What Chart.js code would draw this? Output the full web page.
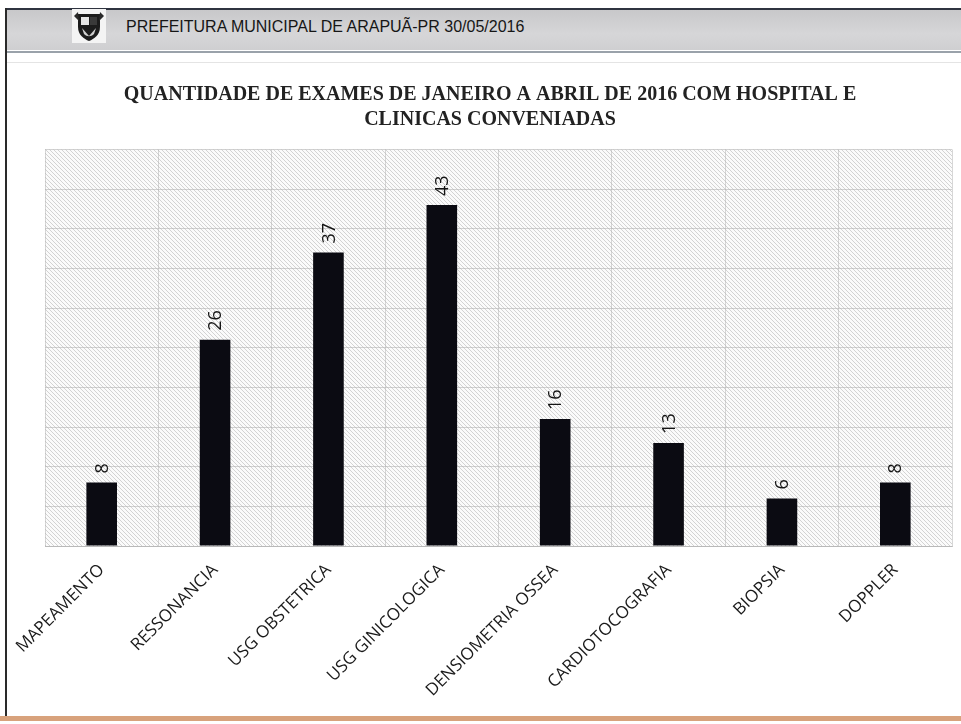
<!DOCTYPE html>
<html>
<head>
<meta charset="utf-8">
<script src="https://cdn.jsdelivr.net/npm/chart.js@4.4.1/dist/chart.umd.min.js"></script>
<style>
  html, body { margin: 0; padding: 0; background: #ffffff; }
  body { width: 961px; height: 724px; position: relative; overflow: hidden; }
  #leftline { position: absolute; left: 5px; top: 8px; width: 2px; height: 712px; background: #2a2a2a; }
  #header { position: absolute; left: 7px; top: 8px; right: 0; height: 40px;
            border-top: 2px solid #2f3440;
            background: linear-gradient(#c8c8ca, #d6d6d8 60%, #cfcfd1); }
  #hline { position: absolute; left: 7px; right: 0; top: 51px; height: 2px; background: #9aa2aa; }
  #hline2 { position: absolute; left: 7px; right: 0; top: 62px; height: 1px; background: #e4e4e4; }
  #logo { position: absolute; left: 72px; top: 9px; width: 34px; height: 34px; }
  #htext { position: absolute; left: 126px; top: 18px; font-family: "Liberation Sans", Arial, sans-serif;
           font-size: 16px; color: #161616; }
  #bottomline { position: absolute; left: 0; right: 0; top: 716px; height: 5px; background: #d8a27c; }
  #wrap { position: absolute; left: 0; top: 60px; width: 961px; height: 655px; }
</style>
</head>
<body>
<div id="leftline"></div>
<div id="header"></div>
<div id="hline"></div>
<div id="hline2"></div>
<svg id="logo" viewBox="0 0 34 34">
  <rect x="0" y="0" width="34" height="34" fill="#f4f4f4"/>
  <path d="M6 5 H28 V18 C28 26 22 30 17 32 C12 30 6 26 6 18 Z" fill="#1c1c1c"/>
  <path d="M9 8 H17 V16 H9 Z" fill="#e6e6e6"/>
  <path d="M18 8 H25 V16 H18 Z" fill="#3a3a3a"/>
  <path d="M10 19 L17 27 L24 19 L22 25 C19 28 15 28 12 25 Z" fill="#cfcfcf"/>
  <path d="M2 7 L6 3 L7 12 Z M32 7 L28 3 L27 12 Z" fill="#2a2a2a"/>
</svg>
<div id="htext">PREFEITURA MUNICIPAL DE ARAPUÃ-PR 30/05/2016</div>
<div id="bottomline"></div>
<div id="wrap"><canvas id="c" width="961" height="655"></canvas></div>
<script>
// ---- data ----
const categories = ["MAPEAMENTO", "RESSONANCIA", "USG OBSTETRICA", "USG GINICOLOGICA",
                    "DENSIOMETRIA OSSEA", "CARDIOTOCOGRAFIA", "BIOPSIA", "DOPPLER"];
const exames = [8, 26, 37, 43, 16, 13, 6, 8];
const titleLines = ["QUANTIDADE DE EXAMES DE JANEIRO A ABRIL DE 2016 COM HOSPITAL E",
                    "CLINICAS CONVENIADAS"];
const yMin = 0;
const yMax = 50;
const yStep = 5;

// hatch pattern for plot area
function makeHatch() {
  const s = 4;
  const p = document.createElement('canvas');
  p.width = s; p.height = s;
  const g = p.getContext('2d');
  g.fillStyle = '#fbfbfb';
  g.fillRect(0, 0, s, s);
  g.strokeStyle = '#d3d3d3';
  g.lineWidth = 1;
  g.beginPath();
  for (const c of [-s, 0, s]) {
    g.moveTo(c, 0);
    g.lineTo(c + s, s);
  }
  g.stroke();
  return p;
}

const hatchPlugin = {
  id: 'hatch',
  beforeDraw(chart) {
    const { ctx, chartArea: a } = chart;
    ctx.save();
    ctx.fillStyle = ctx.createPattern(makeHatch(), 'repeat');
    ctx.fillRect(a.left, a.top, a.right - a.left, a.bottom - a.top);
    ctx.restore();
  }
};

const valueLabels = {
  id: 'valueLabels',
  afterDatasetsDraw(chart) {
    const { ctx } = chart;
    const meta = chart.getDatasetMeta(0);
    const data = chart.data.datasets[0].data;
    ctx.save();
    ctx.font = '18px "Open Sans", sans-serif';
    ctx.fillStyle = '#141414';
    ctx.textAlign = 'left';
    ctx.textBaseline = 'middle';
    meta.data.forEach((bar, i) => {
      ctx.save();
      ctx.translate(bar.x + 1, bar.y - 9);
      ctx.rotate(-Math.PI / 2);
      ctx.fillText(String(data[i]), 0, 0);
      ctx.restore();
    });
    ctx.restore();
  }
};

new Chart(document.getElementById('c'), {
  type: 'bar',
  data: {
    labels: categories,
    datasets: [{
      data: exames,
      backgroundColor: '#0b0b12',
      borderWidth: 0,
      barPercentage: 0.27,
      categoryPercentage: 1.0
    }]
  },
  options: {
    responsive: false,
    animation: false,
    events: [],
    layout: { padding: { left: 28, right: 9, top: 10, bottom: 0 } },
    plugins: {
      legend: { display: false },
      tooltip: { enabled: false },
      title: {
        display: true,
        text: titleLines,
        color: '#222222',
        font: { family: '"Liberation Serif", "Times New Roman", serif', size: 20, weight: 'bold', lineHeight: 1.25 },
        padding: { top: 12, bottom: 17.5 }
      }
    },
    scales: {
      x: {
        grid: { display: true, offset: true, color: 'rgba(175,175,175,0.5)', lineWidth: 1, drawTicks: false },
        border: { display: true, color: 'rgba(175,175,175,0.7)' },
        ticks: {
          color: '#1a1a1a',
          font: { family: '"Open Sans", sans-serif', size: 17 },
          minRotation: 45, maxRotation: 45,
          autoSkip: false,
          padding: 14
        },
        afterFit(scale) { scale.height = 169; scale.paddingLeft = 0; scale.paddingRight = 0; }
      },
      y: {
        min: yMin, max: yMax,
        ticks: { display: false, stepSize: yStep },
        grid: { display: true, color: 'rgba(175,175,175,0.55)', lineWidth: 1, drawTicks: false },
        border: { display: false },
        afterFit(scale) { scale.width = 17; scale.paddingTop = 0; scale.paddingBottom = 0; }
      }
    }
  },
  plugins: [hatchPlugin, valueLabels]
});
</script>
</body>
</html>
